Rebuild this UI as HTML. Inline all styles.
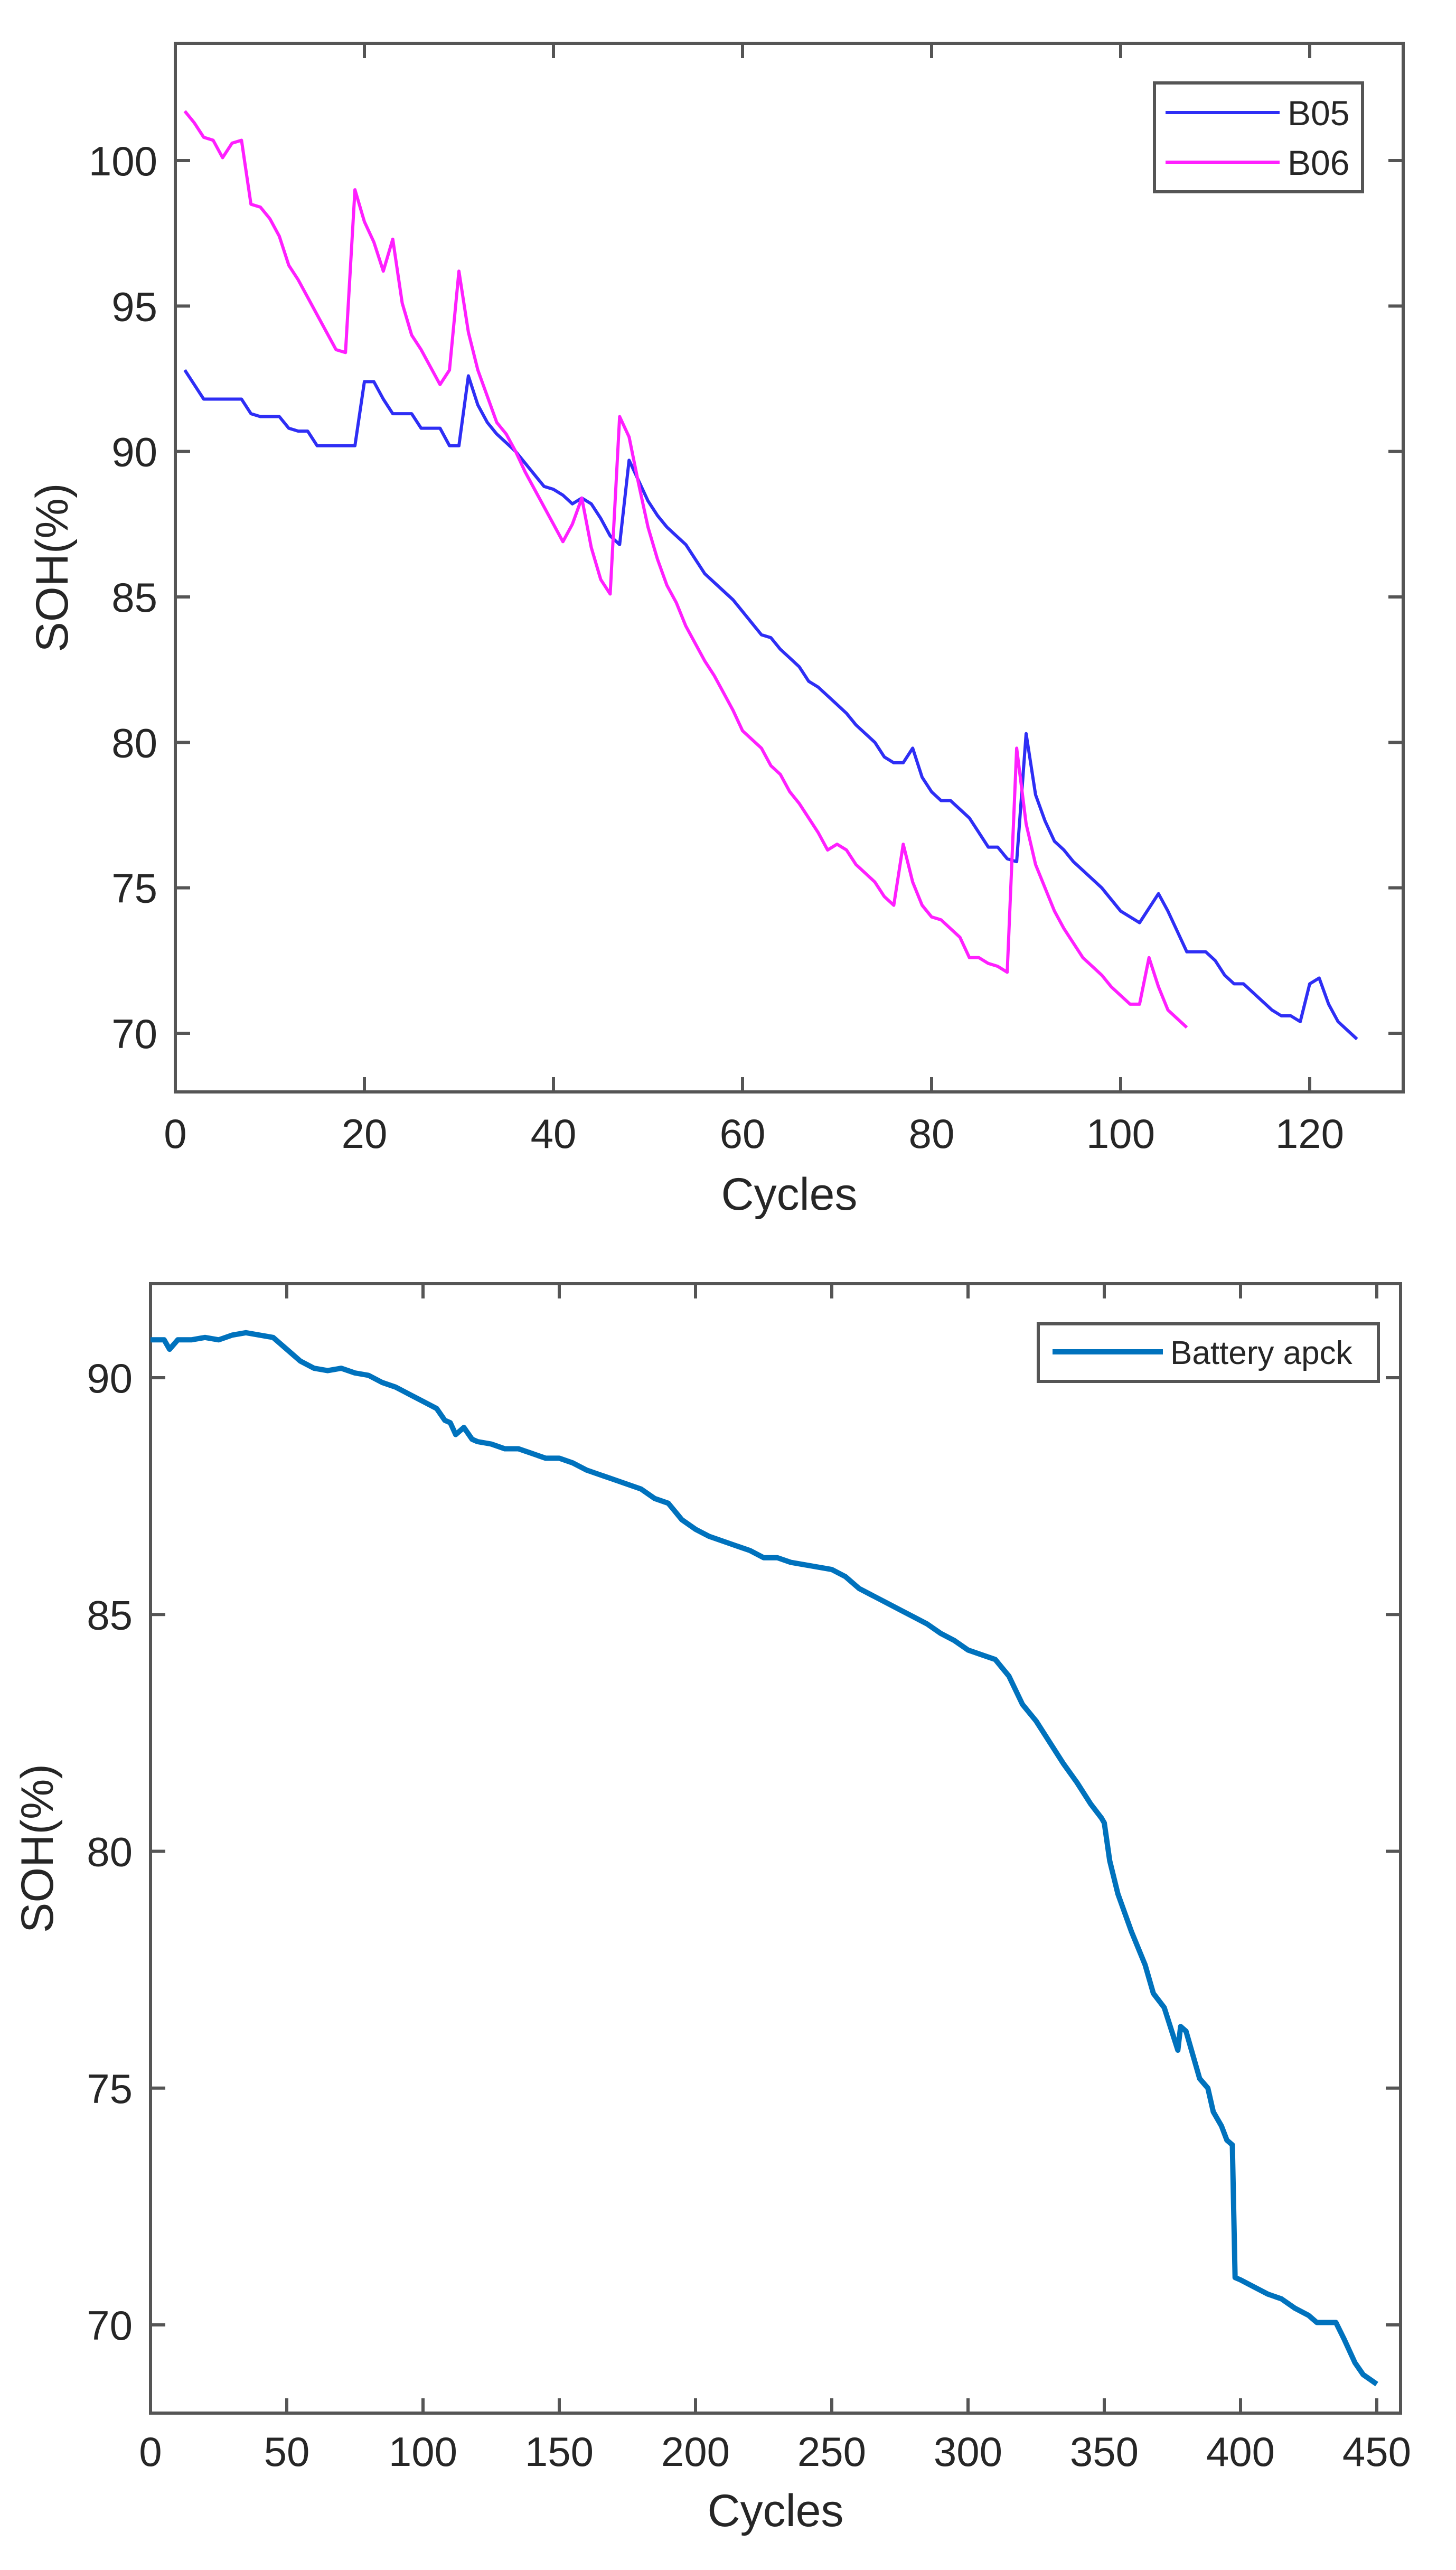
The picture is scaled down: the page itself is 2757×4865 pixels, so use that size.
<!DOCTYPE html>
<html><head><meta charset="utf-8"><style>
html,body{margin:0;padding:0;background:#fff}
svg{display:block}
text{font-family:"Liberation Sans",Arial,sans-serif;fill:#262626}
</style></head><body>
<svg id="svg" width="2757" height="4865" viewBox="0 0 2757 4865" xmlns="http://www.w3.org/2000/svg">
<rect width="2757" height="4865" fill="#fff"/>
<g id="top"></g>
<g id="bot"></g>
</svg>
<script>
// ---- Top chart data ----
const b05 = [92.8,92.3,91.8,91.8,91.8,91.8,91.8,91.3,91.2,91.2,91.2,90.8,90.7,90.7,90.2,90.2,90.2,90.2,90.2,92.4,92.4,91.8,91.3,91.3,91.3,90.8,90.8,90.8,90.2,90.2,92.6,91.6,91.0,90.6,90.3,90.0,89.6,89.2,88.8,88.7,88.5,88.2,88.4,88.2,87.7,87.1,86.8,89.7,89.0,88.3,87.8,87.4,87.1,86.8,86.3,85.8,85.5,85.2,84.9,84.5,84.1,83.7,83.6,83.2,82.9,82.6,82.1,81.9,81.6,81.3,81.0,80.6,80.3,80.0,79.5,79.3,79.3,79.8,78.8,78.3,78.0,78.0,77.7,77.4,76.9,76.4,76.4,76.0,75.9,80.3,78.2,77.3,76.6,76.3,75.9,75.6,75.3,75.0,74.6,74.2,74.0,73.8,74.3,74.8,74.2,73.5,72.8,72.8,72.8,72.5,72.0,71.7,71.7,71.4,71.1,70.8,70.6,70.6,70.4,71.7,71.9,71.0,70.4,70.1,69.8];
const b06 = [101.7,101.3,100.8,100.7,100.1,100.6,100.7,98.5,98.4,98.0,97.4,96.4,95.9,95.3,94.7,94.1,93.5,93.4,99.0,97.9,97.2,96.2,97.3,95.1,94.0,93.5,92.9,92.3,92.8,96.2,94.1,92.8,91.9,91.0,90.6,90.0,89.3,88.7,88.1,87.5,86.9,87.5,88.4,86.7,85.6,85.1,91.2,90.5,88.9,87.4,86.3,85.4,84.8,84.0,83.4,82.8,82.3,81.7,81.1,80.4,80.1,79.8,79.2,78.9,78.3,77.9,77.4,76.9,76.3,76.5,76.3,75.8,75.5,75.2,74.7,74.4,76.5,75.2,74.4,74.0,73.9,73.6,73.3,72.6,72.6,72.4,72.3,72.1,79.8,77.2,75.8,75.0,74.2,73.6,73.1,72.6,72.3,72.0,71.6,71.3,71.0,71.0,72.6,71.6,70.8,70.5,70.2];
const topXTicks = [0,20,40,60,80,100,120];
const topYTicks = [70,75,80,85,90,95,100];
// ---- Bottom chart data ----
const packCycles = [0,5,7,10,15,20,25,30,35,40,45,50,55,60,65,70,75,80,85,90,95,100,105,108,110,112,115,118,120,125,130,135,140,145,150,155,160,165,170,175,180,185,190,195,200,205,210,215,220,225,230,235,240,245,250,255,260,265,270,275,280,285,290,295,300,305,310,315,320,325,330,335,340,345,349,350,352,355,360,365,368,372,377,378,380,383,385,388,390,393,395,397,398,400,405,410,415,420,425,428,430,435,438,442,445,450];
const packSoh = [90.8,90.8,90.6,90.8,90.8,90.85,90.8,90.9,90.95,90.9,90.85,90.6,90.35,90.2,90.15,90.2,90.1,90.05,89.9,89.8,89.65,89.5,89.35,89.1,89.05,88.8,88.95,88.7,88.65,88.6,88.5,88.5,88.4,88.3,88.3,88.2,88.05,87.95,87.85,87.75,87.65,87.45,87.35,87.0,86.8,86.65,86.55,86.45,86.35,86.2,86.2,86.1,86.05,86.0,85.95,85.8,85.55,85.4,85.25,85.1,84.95,84.8,84.6,84.45,84.25,84.15,84.05,83.7,83.1,82.75,82.3,81.85,81.45,81.0,80.7,80.6,79.8,79.1,78.3,77.6,77.0,76.7,75.8,76.3,76.2,75.6,75.2,75.0,74.5,74.2,73.9,73.8,71.0,70.95,70.8,70.65,70.55,70.35,70.2,70.05,70.05,70.05,69.7,69.2,68.95,68.75];
const botXTicks = [0,50,100,150,200,250,300,350,400,450];
const botYTicks = [70,75,80,85,90];

const NS = "http://www.w3.org/2000/svg";
function mk(parent, tag, attrs, txt){
  const e = document.createElementNS(NS, tag);
  for (const k in attrs) e.setAttribute(k, attrs[k]);
  if (txt !== undefined) e.textContent = txt;
  parent.appendChild(e);
  return e;
}
function drawAxes(g, box, sx, sy, xt, yt, labelY, xtitleY, ytitleX){
  const AX = "#555";
  for (const v of xt){
    const x = sx(v);
    const t1 = mk(g,'line',{x1:x,y1:box.b,x2:x,y2:box.b-28,stroke:AX,'stroke-width':6});
    
    
    mk(g,'line',{x1:x,y1:box.t,x2:x,y2:box.t+28,stroke:AX,'stroke-width':6});
    const lb = mk(g,'text',{x:x,y:labelY,'font-size':78,'text-anchor':'middle'},String(v));
    
    
  }
  for (const v of yt){
    const y = sy(v);
    const t2 = mk(g,'line',{x1:box.l,y1:y,x2:box.l+28,y2:y,stroke:AX,'stroke-width':6});
    
    
    mk(g,'line',{x1:box.r,y1:y,x2:box.r-28,y2:y,stroke:AX,'stroke-width':6});
    const lb = mk(g,'text',{x:box.l-34,y:y+28,'font-size':78,'text-anchor':'end'},String(v));
    
    
  }
  const fr = mk(g,'rect',{x:box.l,y:box.t,width:box.r-box.l,height:box.b-box.t,fill:'none',stroke:AX,'stroke-width':6});
  
  
  const xt2 = mk(g,'text',{x:(box.l+box.r)/2,y:xtitleY,'font-size':86,'text-anchor':'middle'},'Cycles');
  
  
  const cy = (box.t+box.b)/2;
  const yt2 = mk(g,'text',{x:ytitleX,y:cy,'font-size':86,'text-anchor':'middle',transform:`rotate(-90 ${ytitleX} ${cy})`},'SOH(%)');
  
  
}
function path(pts){ return pts.map((p,i)=>(i?'L':'M')+p[0].toFixed(1)+' '+p[1].toFixed(1)).join(' '); }

// Top chart
(function(){
  const g = document.getElementById('top');
  const box = {l:332,r:2657,t:82,b:2067};
  const sx = v => box.l + v*(2480-332)/120;
  const sy = v => 304 + (100-v)*(1956-304)/30;
  drawAxes(g, box, sx, sy, topXTicks, topYTicks, 2173, 2290, 128);
  const p1 = mk(g,'path',{d:path(b05.map((v,i)=>[sx(i+1),sy(v)])),fill:'none',stroke:'#2e2ef5','stroke-width':6,'stroke-linejoin':'round'});
  
  
  const p2 = mk(g,'path',{d:path(b06.map((v,i)=>[sx(i+1),sy(v)])),fill:'none',stroke:'#ff1fff','stroke-width':6,'stroke-linejoin':'round'});
  
  
  const lg = mk(g,'g',{});
  
  
  mk(lg,'rect',{x:2186,y:157,width:394,height:206,fill:'#fff',stroke:'#555','stroke-width':6});
  mk(lg,'line',{x1:2207,y1:213,x2:2423,y2:213,stroke:'#2e2ef5','stroke-width':6});
  const t1 = mk(lg,'text',{x:2438,y:237,'font-size':66},'B05');
  
  
  mk(lg,'line',{x1:2207,y1:307,x2:2423,y2:307,stroke:'#ff1fff','stroke-width':6});
  const t2 = mk(lg,'text',{x:2438,y:331,'font-size':66},'B06');
  
  
})();

// Bottom chart
(function(){
  const g = document.getElementById('bot');
  const box = {l:285,r:2652,t:2430,b:4568};
  const sx = v => box.l + v*(2607-285)/450;
  const sy = v => 2608 + (90-v)*(4401-2608)/20;
  drawAxes(g, box, sx, sy, botXTicks, botYTicks, 4668, 4782, 100);
  const p = mk(g,'path',{d:path(packCycles.map((c,i)=>[sx(c),sy(packSoh[i])])),fill:'none',stroke:'#0072bd','stroke-width':10,'stroke-linejoin':'round'});
  
  
  const lg = mk(g,'g',{});
  
  
  mk(lg,'rect',{x:1966,y:2506,width:644,height:109,fill:'#fff',stroke:'#555','stroke-width':6});
  mk(lg,'line',{x1:1993,y1:2559,x2:2202,y2:2559,stroke:'#0072bd','stroke-width':10});
  const t = mk(lg,'text',{x:2216,y:2582,'font-size':62},'Battery apck');
  
  
})();
</script>
</body></html>
